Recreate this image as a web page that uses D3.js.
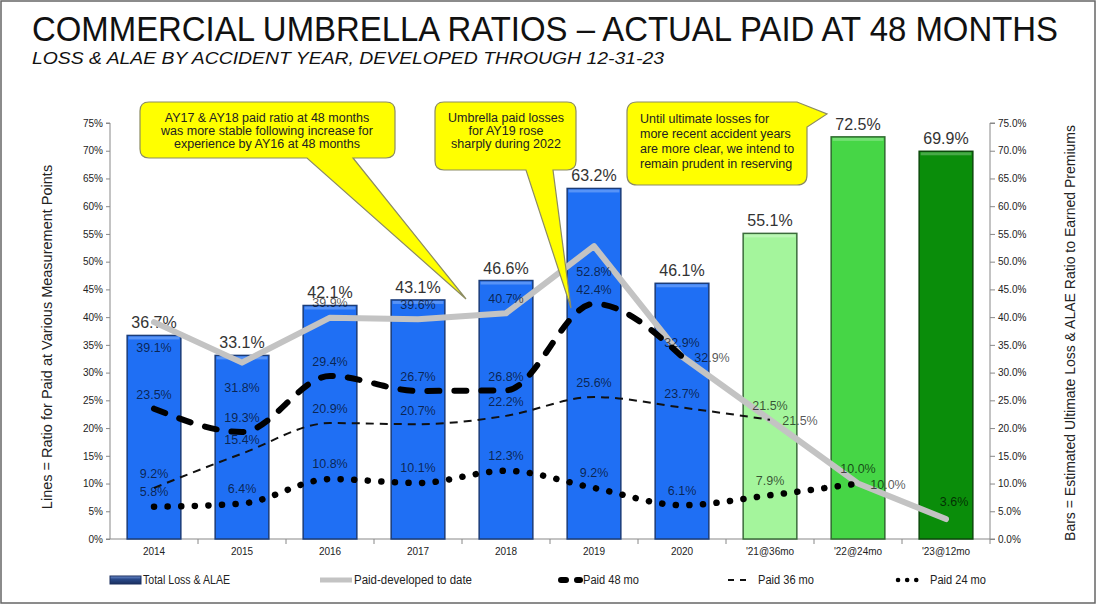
<!DOCTYPE html>
<html>
<head>
<meta charset="utf-8">
<script src="https://cdn.jsdelivr.net/npm/d3@7"></script>
<style>
    body { margin: 0; background: #fff; }
    svg { display: block; font-family: 'Liberation Sans', Arial, sans-serif; }
</style>
</head>
<body>
<svg id="chart" width="1097" height="615"></svg>
<script>
// Chart values
const categories = ['2014', '2015', '2016', '2017', '2018', '2019', '2020', "'21@36mo", "'22@24mo", "'23@12mo"];
const totalLossAlae = [36.7, 33.1, 42.1, 43.1, 46.6, 63.2, 46.1, 55.1, 72.5, 69.9];
const paidToDate = [39.1, 31.8, 39.9, 39.6, 40.7, 52.8, 32.9, 21.5, 10.0, 3.6];
const paid48 = [23.5, 19.3, 29.4, 26.7, 26.8, 42.4, 32.9, null, null, null];
const paid36 = [9.2, 15.4, 20.9, 20.7, 22.2, 25.6, 23.7, 21.5, null, null];
const paid24 = [5.8, 6.4, 10.8, 10.1, 12.3, 9.2, 6.1, 7.9, 10.0, null];
const leftTicks = [0, 5, 10, 15, 20, 25, 30, 35, 40, 45, 50, 55, 60, 65, 70, 75];
const rightTicks = [0, 5, 10, 15, 20, 25, 30, 35, 40, 45, 50, 55, 60, 65, 70, 75];

// where Excel put the labels of the grey line
const paidToDateLabelPos = ['below', 'below', 'above', 'above', 'above', 'below', 'right', 'right', 'right', 'aboveRight'];

const barFills = ['#1f6ff4', '#1f6ff4', '#1f6ff4', '#1f6ff4', '#1f6ff4', '#1f6ff4', '#1f6ff4', '#a4f59c', '#46d646', '#0a8d0a'];
const barStrokes = ['#1b3c78', '#1b3c78', '#1b3c78', '#1b3c78', '#1b3c78', '#1b3c78', '#1b3c78', '#3b6b3b', '#2f6a2f', '#0b4a0b'];

const svg = d3.select('#chart');
const svgWidth = +svg.attr('width');

const plot = {left: 110, right: 990, top: 123, bottom: 539};

// frame of the slide
svg.append('rect')
    .attr('x', 1).attr('y', 1)
    .attr('width', svgWidth - 3).attr('height', 602)
    .attr('fill', 'none')
    .attr('stroke', '#666')
    .attr('stroke-width', 1.5);

// title in a narrow look: smaller font stretched up
svg.append('g')
    .attr('transform', 'translate(32, 41) scale(1, 1.17)')
    .append('text')
    .attr('x', 0).attr('y', 0)
    .attr('font-size', 30)
    .attr('fill', '#111')
    .attr('textLength', 1026)
    .attr('lengthAdjust', 'spacingAndGlyphs')
    .text('COMMERCIAL UMBRELLA RATIOS – ACTUAL PAID AT 48 MONTHS');

svg.append('text')
    .attr('x', 32).attr('y', 64)
    .attr('font-size', 17)
    .attr('font-style', 'italic')
    .attr('fill', '#111')
    .attr('textLength', 632)
    .attr('lengthAdjust', 'spacingAndGlyphs')
    .text('LOSS & ALAE BY ACCIDENT YEAR, DEVELOPED THROUGH 12-31-23');

// Scales
const xScale = d3.scaleBand()
    .domain(categories)
    .range([plot.left, plot.right])
    .paddingInner(0.39)
    .paddingOuter(0.195);
const cx = (i) => xScale(categories[i]) + xScale.bandwidth() / 2;

const yLeft = d3.scaleLinear().domain([0, 75]).range([plot.bottom, plot.top]);
const yRight = d3.scaleLinear().domain([0, 75]).range([plot.bottom, plot.top]);

// Axes
const leftAxis = d3.axisLeft(yLeft)
    .tickValues(leftTicks)
    .tickSize(4)
    .tickFormat((d) => d + '%');
const rightAxis = d3.axisRight(yRight)
    .tickValues(rightTicks)
    .tickSize(5)
    .tickFormat((d) => d.toFixed(1) + '%');

function styleAxis(g) {
    g.selectAll('path').attr('stroke', '#888');
    g.selectAll('line').attr('stroke', '#888');
    g.selectAll('text').attr('fill', '#222').attr('font-size', 10)
        .attr('font-family', "'Liberation Sans', Arial, sans-serif");
}

svg.append('g')
    .attr('transform', `translate(${plot.left}, 0)`)
    .call(leftAxis)
    .call((g) => g.select('.domain').attr('d', `M-4,${plot.top}H0V${plot.bottom}H-4`))
    .call(styleAxis);

svg.append('g')
    .attr('transform', `translate(${plot.right}, 0)`)
    .call(rightAxis)
    .call((g) => g.select('.domain').attr('d', `M5,${plot.top}H0V${plot.bottom}H5`))
    .call(styleAxis);

// x axis: ticks sit between the categories
const xAxisGroup = svg.append('g')
    .attr('transform', `translate(0, ${plot.bottom})`);
xAxisGroup.append('line')
    .attr('x1', plot.left).attr('x2', plot.right)
    .attr('stroke', '#888');
xAxisGroup.selectAll('.xtick')
    .data(categories)
    .enter()
    .append('line')
    .attr('class', 'xtick')
    .attr('x1', (d) => xScale(d) + xScale.bandwidth() + xScale.step() * 0.195)
    .attr('x2', (d) => xScale(d) + xScale.bandwidth() + xScale.step() * 0.195)
    .attr('y1', 0).attr('y2', 5)
    .attr('stroke', '#888');
xAxisGroup.selectAll('.xlabel')
    .data(categories)
    .enter()
    .append('text')
    .attr('class', 'xlabel')
    .attr('x', (d) => xScale(d) + xScale.bandwidth() / 2)
    .attr('y', 16)
    .attr('text-anchor', 'middle')
    .attr('font-size', 10)
    .attr('fill', '#222')
    .text((d) => d);

// axis titles
svg.append('text')
    .attr('transform', `translate(52, ${(plot.top + plot.bottom) / 2 + 6}) rotate(-90)`)
    .attr('text-anchor', 'middle')
    .attr('font-size', 14.5)
    .attr('fill', '#222')
    .text('Lines = Ratio for Paid at Various Measurement Points');

svg.append('text')
    .attr('transform', `translate(1075, ${(plot.top + plot.bottom) / 2 + 2}) rotate(-90)`)
    .attr('text-anchor', 'middle')
    .attr('font-size', 14)
    .attr('fill', '#222')
    .text('Bars = Estimated Ultimate Loss & ALAE Ratio to Earned Premiums');

// Bars
const defs = svg.append('defs');
const legendGrad = defs.append('linearGradient')
    .attr('id', 'legendGrad')
    .attr('x1', 0).attr('x2', 0).attr('y1', 0).attr('y2', 1);
legendGrad.append('stop').attr('offset', '0%').attr('stop-color', '#6f8fd0');
legendGrad.append('stop').attr('offset', '40%').attr('stop-color', '#2a4a8a');
legendGrad.append('stop').attr('offset', '100%').attr('stop-color', '#1a2f5f');

const barData = categories.map((c, i) => ({cat: c, value: totalLossAlae[i], i: i}));

svg.selectAll('.bar')
    .data(barData)
    .enter()
    .append('rect')
    .attr('class', 'bar')
    .attr('x', (d) => xScale(d.cat))
    .attr('y', (d) => yRight(d.value))
    .attr('width', xScale.bandwidth())
    .attr('height', (d) => plot.bottom - yRight(d.value))
    .attr('fill', (d) => barFills[d.i])
    .attr('stroke', (d) => barStrokes[d.i])
    .attr('stroke-width', 1.5);

// light bevel on the top of each bar
svg.selectAll('.bevel')
    .data(barData)
    .enter()
    .append('rect')
    .attr('class', 'bevel')
    .attr('x', (d) => xScale(d.cat) + 1.5)
    .attr('y', (d) => yRight(d.value) + 1)
    .attr('width', xScale.bandwidth() - 3)
    .attr('height', 3)
    .attr('fill', '#fff')
    .attr('opacity', 0.25);

svg.selectAll('.barLabel')
    .data(barData)
    .enter()
    .append('text')
    .attr('class', 'barLabel')
    .attr('x', (d) => xScale(d.cat) + xScale.bandwidth() / 2)
    .attr('y', (d) => yRight(d.value) - 7)
    .attr('text-anchor', 'middle')
    .attr('font-size', 16)
    .attr('fill', '#333')
    .text((d) => d.value.toFixed(1) + '%');

// Lines
function seriesPoints(values) {
    return values
        .map((v, i) => ({i: i, value: v}))
        .filter((d) => d.value !== null);
}

const straightLine = d3.line()
    .x((d) => cx(d.i))
    .y((d) => yLeft(d.value));
const smoothLine = d3.line()
    .x((d) => cx(d.i))
    .y((d) => yLeft(d.value))
    .curve(d3.curveMonotoneX);

svg.append('path')
    .attr('d', straightLine(seriesPoints(paidToDate)))
    .attr('fill', 'none')
    .attr('stroke', '#c3c3c3')
    .attr('stroke-width', 6)
    .attr('stroke-linejoin', 'round')
    .attr('stroke-linecap', 'round');

svg.append('path')
    .attr('d', smoothLine(seriesPoints(paid36)))
    .attr('fill', 'none')
    .attr('stroke', '#111')
    .attr('stroke-width', 2)
    .attr('stroke-dasharray', '8,6');

svg.append('path')
    .attr('d', smoothLine(seriesPoints(paid48)))
    .attr('fill', 'none')
    .attr('stroke', '#000')
    .attr('stroke-width', 6)
    .attr('stroke-linecap', 'round')
    .attr('stroke-dasharray', '12,15');

svg.append('path')
    .attr('d', smoothLine(seriesPoints(paid24)))
    .attr('fill', 'none')
    .attr('stroke', '#000')
    .attr('stroke-width', 6.5)
    .attr('stroke-linecap', 'round')
    .attr('stroke-dasharray', '0.1,13.5');

// point labels
function addLabels(values, dxFn, dyFn) {
    svg.append('g')
        .selectAll('text')
        .data(seriesPoints(values))
        .enter()
        .append('text')
        .attr('x', (d) => cx(d.i) + dxFn(d))
        .attr('y', (d) => yLeft(d.value) + dyFn(d))
        .attr('dy', '0.35em')
        .attr('text-anchor', 'middle')
        .attr('font-size', 12.5)
        .attr('fill', '#000')
        .attr('fill-opacity', 0.68)
        .text((d) => d.value.toFixed(1) + '%');
}

const posDx = {below: 0, above: 0, right: 30, aboveRight: 8};
const posDy = {below: 25, above: -15, right: 1, aboveRight: -17};
addLabels(paidToDate, (d) => posDx[paidToDateLabelPos[d.i]], (d) => posDy[paidToDateLabelPos[d.i]]);
addLabels(paid48, () => 0, () => -14);
addLabels(paid36, () => 0, () => -14);
addLabels(paid24, () => 0, () => -15);

// Callouts
function roundedBox(x0, y0, x1, y1, r) {
    return {x0: x0, y0: y0, x1: x1, y1: y1, r: r};
}

function calloutBottom(b, baseA, baseB, tip) {
    return `M${b.x0 + b.r},${b.y0}H${b.x1 - b.r}Q${b.x1},${b.y0} ${b.x1},${b.y0 + b.r}` +
        `V${b.y1 - b.r}Q${b.x1},${b.y1} ${b.x1 - b.r},${b.y1}` +
        `H${baseB}L${tip[0]},${tip[1]}L${baseA},${b.y1}` +
        `H${b.x0 + b.r}Q${b.x0},${b.y1} ${b.x0},${b.y1 - b.r}` +
        `V${b.y0 + b.r}Q${b.x0},${b.y0} ${b.x0 + b.r},${b.y0}Z`;
}

function calloutRightTop(b, topX, sideY, tip) {
    return `M${b.x0 + b.r},${b.y0}H${topX}L${tip[0]},${tip[1]}L${b.x1},${sideY}` +
        `V${b.y1 - b.r}Q${b.x1},${b.y1} ${b.x1 - b.r},${b.y1}` +
        `H${b.x0 + b.r}Q${b.x0},${b.y1} ${b.x0},${b.y1 - b.r}` +
        `V${b.y0 + b.r}Q${b.x0},${b.y0} ${b.x0 + b.r},${b.y0}Z`;
}

const callouts = [
    {
        d: calloutBottom(roundedBox(140, 102, 395, 158, 9), 307, 353, [466, 299]),
        lines: ['AY17 & AY18 paid ratio at 48 months', 'was more stable following increase for', 'experience by AY16 at 48 months'],
        x: 267, y: 118, step: 12.8, anchor: 'middle'
    },
    {
        d: calloutBottom(roundedBox(435, 102, 576, 170, 9), 526, 553, [571, 308]),
        lines: ['Umbrella paid losses', 'for AY19 rose', 'sharply during 2022'],
        x: 506, y: 118, step: 13, anchor: 'middle'
    },
    {
        d: calloutRightTop(roundedBox(627, 102, 807, 185, 10), 797, 127, [827, 114]),
        lines: ['Until ultimate losses for', 'more recent accident years', 'are more clear, we intend to', 'remain prudent in reserving'],
        x: 640, y: 119, step: 14.8, anchor: 'start'
    }
];

callouts.forEach((c) => {
    svg.append('path')
        .attr('d', c.d)
        .attr('fill', '#ffff00')
        .attr('stroke', '#8c8c62')
        .attr('stroke-width', 1.2);
    const t = svg.append('text')
        .attr('font-size', 12.5)
        .attr('fill', '#222')
        .attr('text-anchor', c.anchor);
    c.lines.forEach((line, k) => {
        t.append('tspan')
            .attr('x', c.x)
            .attr('y', c.y + k * c.step)
            .attr('dy', '0.35em')
            .text(line);
    });
});

// Legend
const legendY = 580;
const legend = svg.append('g').attr('font-size', 12).attr('fill', '#222');

legend.append('rect')
    .attr('x', 110).attr('y', legendY - 4)
    .attr('width', 31).attr('height', 8)
    .attr('fill', 'url(#legendGrad)')
    .attr('stroke', '#1a2f5f');
legend.append('text').attr('x', 143).attr('y', legendY).attr('dy', '0.35em')
    .attr('textLength', 87).attr('lengthAdjust', 'spacingAndGlyphs')
    .text('Total Loss & ALAE');

legend.append('line')
    .attr('x1', 320).attr('x2', 352)
    .attr('y1', legendY).attr('y2', legendY)
    .attr('stroke', '#c3c3c3').attr('stroke-width', 5);
legend.append('text').attr('x', 354).attr('y', legendY).attr('dy', '0.35em')
    .attr('textLength', 118).attr('lengthAdjust', 'spacingAndGlyphs')
    .text('Paid-developed to date');

legend.append('line')
    .attr('x1', 561).attr('x2', 580)
    .attr('y1', legendY).attr('y2', legendY)
    .attr('stroke', '#000').attr('stroke-width', 6)
    .attr('stroke-linecap', 'round')
    .attr('stroke-dasharray', '5,11');
legend.append('text').attr('x', 583).attr('y', legendY).attr('dy', '0.35em')
    .attr('textLength', 56).attr('lengthAdjust', 'spacingAndGlyphs')
    .text('Paid 48 mo');

legend.append('line')
    .attr('x1', 728).attr('x2', 752)
    .attr('y1', legendY).attr('y2', legendY)
    .attr('stroke', '#111').attr('stroke-width', 2)
    .attr('stroke-dasharray', '6,6');
legend.append('text').attr('x', 758).attr('y', legendY).attr('dy', '0.35em')
    .attr('textLength', 56).attr('lengthAdjust', 'spacingAndGlyphs')
    .text('Paid 36 mo');

legend.append('line')
    .attr('x1', 898).attr('x2', 924)
    .attr('y1', legendY).attr('y2', legendY)
    .attr('stroke', '#000').attr('stroke-width', 4.5)
    .attr('stroke-linecap', 'round')
    .attr('stroke-dasharray', '0.1,9');
legend.append('text').attr('x', 930).attr('y', legendY).attr('dy', '0.35em')
    .attr('textLength', 56).attr('lengthAdjust', 'spacingAndGlyphs')
    .text('Paid 24 mo');
</script>
</body>
</html>
